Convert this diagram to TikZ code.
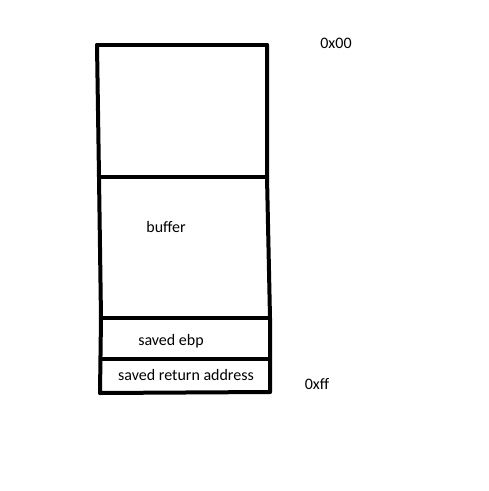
\documentclass[tikz,border=0pt]{standalone}
\usepackage{fontspec}
\setmainfont{Carlito}
\begin{document}
\begin{tikzpicture}[x=1pt,y=-1pt,
  wall/.style={line width=4pt,line cap=round,line join=round},
  lbl/.style={font=\fontsize{16}{19}\selectfont,inner sep=0pt,anchor=center}]
\useasboundingbox (0,0) rectangle (489,491);
\coordinate (tl) at (97,45);
\coordinate (tr) at (267,45);
\coordinate (m1l) at (99,177);
\coordinate (m1r) at (267,177);
\coordinate (m2l) at (101,318);
\coordinate (m2r) at (270,318);
\coordinate (m3l) at (101,359);
\coordinate (m3r) at (270,359);
\coordinate (bl) at (100,393);
\coordinate (br) at (270,392);
\draw[wall] (tl) -- (tr);
\draw[wall] (tl) -- (m1l) -- (m2l) -- (bl);
\draw[wall] (tr) -- (m1r) -- (m2r) -- (br);
\draw[wall] (m1l) -- (m1r);
\draw[wall] (m2l) -- (m2r);
\draw[wall] (m3l) -- (m3r);
\draw[wall] (bl) -- (br);
\node[lbl] (a0) at (336,43) {0x00};
\node[lbl] (buf) at (166,227) {buffer};
\node[lbl] (ebp) at (171,341) {saved ebp};
\node[lbl] (ret) at (186,375) {saved return address};
\node[lbl] (aff) at (317,384) {0xff};
\end{tikzpicture}
\end{document}
